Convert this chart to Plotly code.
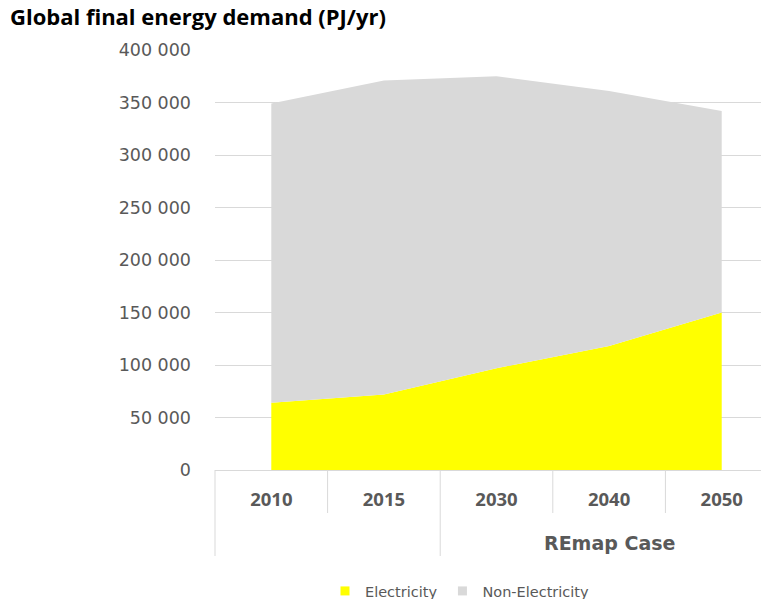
import plotly.graph_objects as go

years = ["2010", "2015", "2030", "2040", "2050"]
electricity = [64000, 72000, 97000, 118000, 150000]
non_electricity = [285000, 299000, 278000, 243000, 192000]
y_ticks = [0, 50000, 100000, 150000, 200000, 250000, 300000, 350000, 400000]
group_label = "REmap Case"
series_names = ["Electricity", "Non-Electricity"]
series_colors = ["#ffff00", "#d9d9d9"]

GRID = "#d9d9d9"
TXT = "#595959"

fig = go.Figure()
for name, vals, col in zip(series_names, [electricity, non_electricity], series_colors):
    fig.add_trace(go.Scatter(
        x=years, y=vals, name=name, stackgroup="one", legendgroup=name,
        mode="none", fillcolor=col, hoverinfo="skip", showlegend=False))
for name, col in zip(series_names, series_colors):
    fig.add_trace(go.Scatter(
        x=[None], y=[None], name=name, legendgroup=name, mode="markers",
        marker=dict(symbol="square", size=9, color=col), showlegend=True))

# page body has an 8px margin: work in figure coordinates = viewport - 8
OFF = 8
W, H = 769 - OFF, 599 - OFF
L, T = 215 - OFF, 50 - OFF
BOTTOM = 470 - OFF
B = H - BOTTOM
ph = BOTTOM - T
xmin, xmax = -0.5, 4.42
span = xmax - xmin

def px_x(i):
    return (i - xmin) / span

def py(p):  # viewport pixel y -> paper y
    return (BOTTOM - (p - OFF)) / ph

shapes = []
for b, full in [(-0.5, True), (0.5, False), (1.5, True), (2.5, False), (3.5, False)]:
    shapes.append(dict(type="line", xref="paper", yref="paper",
                       x0=px_x(b), x1=px_x(b), y0=0, y1=py(556) if full else py(513),
                       line=dict(color=GRID, width=1)))

fig.update_layout(
    width=W, height=H,
    margin=dict(l=L, r=0, t=T, b=B, pad=0, autoexpand=False),
    paper_bgcolor="white", plot_bgcolor="white",
    separators=". ",
    title=dict(text="<b>Global final energy demand (PJ/yr)</b>",
               x=2 / W, xanchor="left", xref="container",
               y=1 - 2 / H, yanchor="top", yref="container",
               font=dict(family="Open Sans", size=22, color="black")),
    xaxis=dict(type="category", categoryorder="array", categoryarray=years,
               range=[xmin, xmax], showgrid=False, zeroline=False, automargin=False,
               showline=True, linecolor=GRID, linewidth=1,
               ticks="outside", ticklen=13, tickcolor="rgba(0,0,0,0)",
               tickfont=dict(family="Open Sans", size=18.5, color=TXT, weight="bold")),
    yaxis=dict(range=[0, 400000], tickvals=y_ticks, tickformat=",d",
               showgrid=True, gridcolor=GRID, gridwidth=1, zeroline=False,
               showline=False, ticklabelstandoff=23, automargin=False,
               tickfont=dict(family="DejaVu Sans", size=17.5, color=TXT)),
    shapes=shapes,
    annotations=[dict(text="<b>" + group_label + "</b>", xref="paper", yref="paper",
                      x=px_x(3), y=py(543), xanchor="center", yanchor="middle",
                      showarrow=False,
                      font=dict(family="DejaVu Sans", size=19, color=TXT))],
    showlegend=True,
    legend=dict(orientation="h", traceorder="normal",
                xref="container", yref="container",
                x=(325 - OFF) / W, xanchor="left", y=1 - (591 - OFF) / H, yanchor="middle",
                font=dict(family="DejaVu Sans", size=14.5, color=TXT),
                itemwidth=30, bgcolor="rgba(0,0,0,0)"),
)

fig.write_html("out.html")
